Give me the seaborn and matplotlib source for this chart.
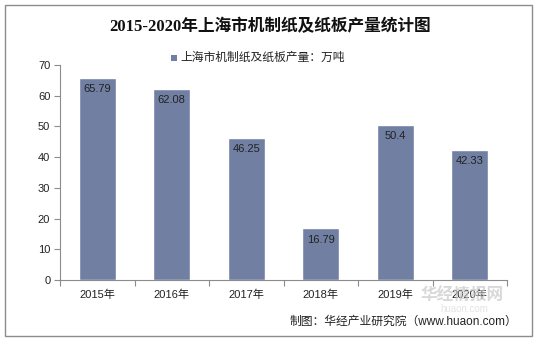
import matplotlib
matplotlib.use("Agg")
import matplotlib.pyplot as plt
import matplotlib.patches as mpatches
import seaborn as sns
import pandas as pd

years = ["2015年", "2016年", "2017年", "2018年", "2019年", "2020年"]
output = [65.79, 62.08, 46.25, 16.79, 50.4, 42.33]
value_labels = ["65.79", "62.08", "46.25", "16.79", "50.4", "42.33"]
series_name = "上海市机制纸及纸板产量：万吨"
title = "2015-2020年上海市机制纸及纸板产量统计图"
source = "制图：华经产业研究院（www.huaon.com）"

sns.set_theme(style="white")
plt.rcParams["font.family"] = ["Liberation Sans", "Noto Sans CJK SC", "DejaVu Sans"]

bar_color = "#717FA3"
df = pd.DataFrame({"year": years, "value": output})

fig = plt.figure(figsize=(5.38, 3.40), dpi=100)
fig.patch.set_facecolor("white")
# outer frame
fig.add_artist(mpatches.Rectangle((5 / 538, 4 / 340), 527 / 538, 331 / 340,
                                  transform=fig.transFigure, fill=False,
                                  edgecolor="#8c8c8c", linewidth=1.0))

ax = fig.add_axes([60 / 538, 1 - 280 / 340, 447 / 538, 215 / 340])
sns.barplot(data=df, x="year", y="value", color=bar_color, width=0.5,
            saturation=1, ax=ax)

ax.set_ylim(0, 70)
ax.set_xlim(-0.5, len(years) - 0.5)
ax.set_yticks(range(0, 71, 10))
ax.set_xlabel("")
ax.set_ylabel("")
for s in ["top", "right"]:
    ax.spines[s].set_visible(False)
for s in ["left", "bottom"]:
    ax.spines[s].set_color("#8c8c8c")
    ax.spines[s].set_linewidth(0.8)

ax.tick_params(axis="y", length=4, width=0.8, color="#8c8c8c", pad=3,
               labelsize=8, labelcolor="#222222", left=True)
ax.tick_params(axis="x", length=0, pad=7, labelsize=8, labelcolor="#222222")
# category boundary ticks on the x axis
ax.set_xticks([i - 0.5 for i in range(len(years) + 1)], minor=True)
ax.tick_params(axis="x", which="minor", length=4, width=0.8, color="#8c8c8c",
               bottom=True)

for i, (v, lab) in enumerate(zip(output, value_labels)):
    ax.text(i, v - 2.0, lab, ha="center", va="top", fontsize=8,
            color="#222222")

fig.text(270 / 538, 1 - 27 / 340, title, ha="center", va="center",
         fontsize=12, fontweight="bold", color="#111111",
         family=["Liberation Serif", "Noto Sans CJK SC"])
fig.add_artist(mpatches.Rectangle((171 / 538, 1 - 61 / 340), 6 / 538, 6 / 340,
                                  transform=fig.transFigure,
                                  facecolor=bar_color, edgecolor="none"))
fig.text(180 / 538, 1 - 57.5 / 340, series_name, ha="left", va="center",
         fontsize=8.5, color="#222222")

# watermark
fig.text(462 / 538, 1 - 296 / 340, "华经情报网", ha="center", va="center",
         fontsize=12, fontweight="bold", color="#c8c8c8", alpha=0.7)
fig.text(464 / 538, 1 - 309 / 340, "huaon.com", ha="center", va="center",
         fontsize=7, color="#d8d8d8", alpha=0.7)

fig.text(517 / 538, 1 - 322 / 340, source, ha="right", va="center",
         fontsize=8.5, color="#222222")

fig.savefig("out.png", dpi=100)
